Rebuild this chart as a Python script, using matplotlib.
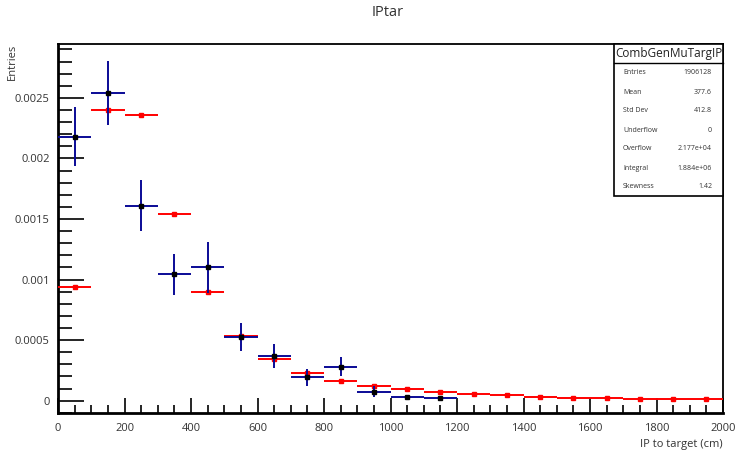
import numpy as np
import matplotlib
matplotlib.use("Agg")
import matplotlib.pyplot as plt
from matplotlib.patches import Rectangle
from matplotlib.lines import Line2D
from matplotlib.ticker import MultipleLocator, FuncFormatter

plt.rcParams['font.family'] = ['Open Sans', 'DejaVu Sans']

# Simulated distribution: 100 cm bins from 0 to 2000 cm
sim_edges = np.arange(0, 2001, 100)
sim_values = [0.00094, 0.00240, 0.00236, 0.001542, 0.00090, 0.000531,
              0.000344, 0.000231, 0.000165, 0.000121, 0.0000934,
              0.0000686, 0.0000545, 0.0000438, 0.000032, 0.000024,
              0.000019, 0.0000157, 0.000013, 0.0000107]

# Measured distribution: 100 cm bins from 0 to 1200 cm
data_edges = np.arange(0, 1201, 100)
data_values = [0.00218, 0.00254, 0.00161, 0.001044, 0.00110, 0.000523,
               0.000369, 0.000195, 0.00028, 0.0000736, 0.000027, 0.000024]
data_errors = [0.000245, 0.000265, 0.00021, 0.00017, 0.00021, 0.000117,
               0.000097, 0.00007, 0.00008, 0.000045, 0.00002, 0.000018]

stats_title = "CombGenMuTargIP"
stats_labels = ["Entries", "Mean", "Std Dev", "Underflow", "Overflow",
                "Integral", "Skewness"]
stats_values = ["1906128", "377.6", "412.8", "0", "2.177e+04",
                "1.884e+06", "1.42"]

fig = plt.figure(figsize=(7.38, 4.5), dpi=100)
ax = fig.add_axes([58/738, 1-413/450, 665/738, 369/450])

sim_c = 0.5*(sim_edges[:-1] + sim_edges[1:])
sim_w = 0.5*np.diff(sim_edges)
ax.errorbar(sim_c, sim_values, xerr=sim_w, fmt='s', color='red',
            ecolor='red', elinewidth=1.4, markersize=2.2, capsize=0, zorder=3)

data_c = 0.5*(data_edges[:-1] + data_edges[1:])
data_w = 0.5*np.diff(data_edges)
ax.errorbar(data_c, data_values, xerr=data_w, yerr=data_errors, fmt='s',
            color='black', ecolor='#0a0a96', elinewidth=1.4, markersize=2.2,
            capsize=0, zorder=4)

ax.set_xlim(0, 2000)
ax.set_ylim(-0.000102, 0.002945)

ax.xaxis.set_major_locator(MultipleLocator(200))
ax.xaxis.set_minor_locator(MultipleLocator(50))
ax.yaxis.set_major_locator(MultipleLocator(0.0005))
ax.yaxis.set_minor_locator(MultipleLocator(0.0001))

def yfmt(v, pos):
    if abs(v) < 1e-12:
        return "0"
    return ("%.4f" % v).rstrip('0')

ax.yaxis.set_major_formatter(FuncFormatter(yfmt))
ax.tick_params(axis='both', which='both', direction='in', colors='black',
               labelcolor='#333333', labelsize=8)
ax.tick_params(axis='x', which='major', length=11, width=1.2, pad=7)
ax.tick_params(axis='x', which='minor', length=6, width=1.2)
ax.tick_params(axis='y', which='major', length=19, width=1.2, pad=6)
ax.tick_params(axis='y', which='minor', length=10, width=1.2)

for s in ['left', 'bottom']:
    ax.spines[s].set_linewidth(2)
for s in ['top', 'right']:
    ax.spines[s].set_linewidth(1.3)

fig.text(388/738, 1-13/450, "IPtar", ha='center', va='center',
         fontsize=10.5, color='#333333')
fig.text(723/738, 1-445/450, "IP to target (cm)", ha='right', va='center',
         fontsize=8, color='#333333')
fig.text(12/738, 1-44/450, "Entries", ha='center', va='top', rotation=90,
         fontsize=8, color='#333333')

# Statistics box
bx0, bx1, by0, by1 = 614, 723, 44, 196
fig.patches.append(Rectangle((bx0/738, 1-by1/450), (bx1-bx0)/738,
                             (by1-by0)/450, transform=fig.transFigure,
                             facecolor='white', edgecolor='black',
                             linewidth=1.2, zorder=10))
fig.lines.append(Line2D([bx0/738, bx1/738], [1-62.5/450, 1-62.5/450],
                        transform=fig.transFigure, color='black',
                        linewidth=1, zorder=11))
fig.text((bx0+bx1)/2/738, 1-53/450, stats_title, ha='center', va='center',
         fontsize=8.5, color='#222222', zorder=12)
for i, (lab, val) in enumerate(zip(stats_labels, stats_values)):
    yy = 1-(73 + i*19)/450
    fig.text(623/738, yy, lab, ha='left', va='center', fontsize=5,
             color='#333333', zorder=12)
    fig.text(712/738, yy, val, ha='right', va='center', fontsize=5,
             color='#333333', zorder=12)

fig.savefig("out.png", dpi=100)
